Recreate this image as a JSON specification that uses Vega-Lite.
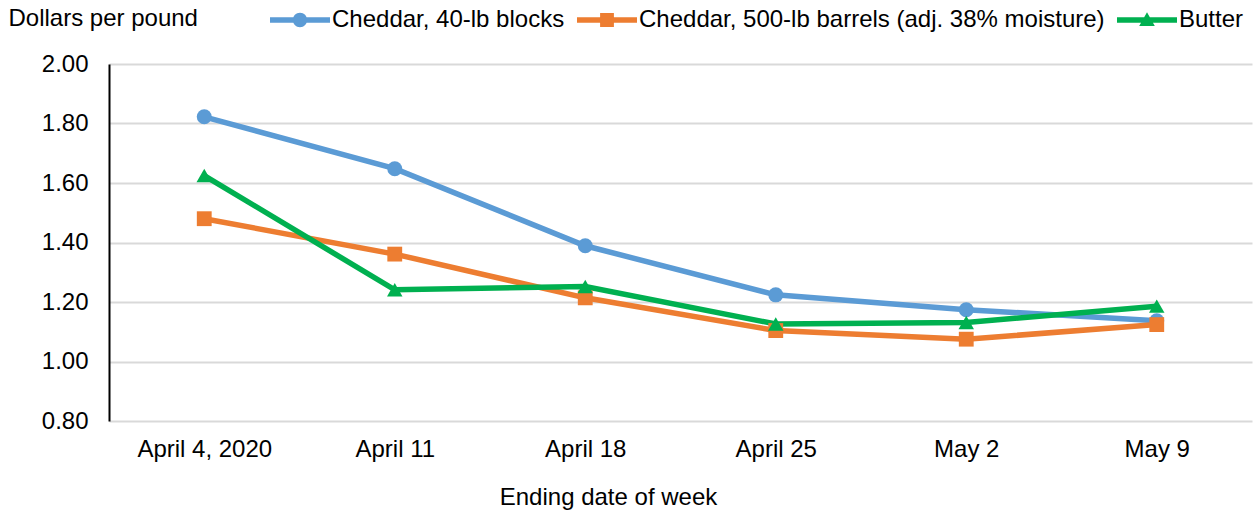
{
  "$schema": "https://vega.github.io/schema/vega-lite/v6.json",
  "autosize": {"type": "none"},
  "padding": {"left": 109, "top": 64, "right": 2, "bottom": 91},
  "width": 1143,
  "height": 357,
  "background": "white",
  "config": {
    "view": {"stroke": null},
    "font": "Liberation Sans",
    "axis": {"labelFont": "Liberation Sans", "titleFont": "Liberation Sans", "labelColor": "#000000", "titleColor": "#000000"},
    "legend": {"labelFont": "Liberation Sans"}
  },
  "data": {
    "values": [
      {"week": "April 4, 2020", "series": "Cheddar, 40-lb blocks", "price": 1.8225},
      {"week": "April 11", "series": "Cheddar, 40-lb blocks", "price": 1.648},
      {"week": "April 18", "series": "Cheddar, 40-lb blocks", "price": 1.389},
      {"week": "April 25", "series": "Cheddar, 40-lb blocks", "price": 1.224},
      {"week": "May 2", "series": "Cheddar, 40-lb blocks", "price": 1.174},
      {"week": "May 9", "series": "Cheddar, 40-lb blocks", "price": 1.137},
      {"week": "April 4, 2020", "series": "Cheddar, 500-lb barrels (adj. 38% moisture)", "price": 1.48},
      {"week": "April 11", "series": "Cheddar, 500-lb barrels (adj. 38% moisture)", "price": 1.361},
      {"week": "April 18", "series": "Cheddar, 500-lb barrels (adj. 38% moisture)", "price": 1.214},
      {"week": "April 25", "series": "Cheddar, 500-lb barrels (adj. 38% moisture)", "price": 1.104},
      {"week": "May 2", "series": "Cheddar, 500-lb barrels (adj. 38% moisture)", "price": 1.075},
      {"week": "May 9", "series": "Cheddar, 500-lb barrels (adj. 38% moisture)", "price": 1.124},
      {"week": "April 4, 2020", "series": "Butter", "price": 1.625},
      {"week": "April 11", "series": "Butter", "price": 1.241},
      {"week": "April 18", "series": "Butter", "price": 1.252},
      {"week": "April 25", "series": "Butter", "price": 1.126},
      {"week": "May 2", "series": "Butter", "price": 1.131},
      {"week": "May 9", "series": "Butter", "price": 1.186}
    ]
  },
  "encoding": {
    "x": {
      "field": "week", "type": "ordinal", "sort": null,
      "scale": {"type": "point", "padding": 0.5},
      "axis": {
        "title": "Ending date of week", "titleFontSize": 24, "titleFontWeight": "normal",
        "titleX": 499, "titleY": 76, "titleAnchor": null, "titleAlign": "center", "titleBaseline": "middle",
        "labelFontSize": 24, "labelPadding": 16, "labelAngle": 0,
        "domain": false, "ticks": false, "grid": false
      }
    },
    "y": {
      "field": "price", "type": "quantitative",
      "scale": {"domain": [0.8, 2.0], "nice": false, "zero": false},
      "axis": {
        "values": [0.8, 1.0, 1.2, 1.4, 1.6, 1.8, 2.0], "format": ".2f",
        "title": "Dollars per pound", "titleAngle": 0, "titleFontSize": 24, "titleFontWeight": "normal",
        "titleX": -101, "titleY": -46, "titleAlign": "left", "titleBaseline": "middle", "titleAnchor": null,
        "labelFontSize": 24, "labelPadding": 21,
        "domain": true, "domainColor": "#000000", "domainWidth": 2,
        "ticks": false, "grid": true, "gridColor": "#d9d9d9", "gridWidth": 2
      }
    },
    "color": {
      "field": "series", "type": "nominal",
      "scale": {
        "domain": ["Cheddar, 40-lb blocks", "Cheddar, 500-lb barrels (adj. 38% moisture)", "Butter"],
        "range": ["#5B9BD5", "#ED7D31", "#00B050"]
      },
      "legend": {
        "title": null, "orient": "none", "direction": "horizontal",
        "legendX": 161, "legendY": -74,
        "labelFontSize": 24, "labelColor": "#000000", "labelOffset": 2, "labelLimit": 0,
        "columnPadding": 12, "symbolSize": 3600,
        "encode": {
          "symbols": {
            "update": {
              "fill": {"scale": "color", "field": "value"},
              "strokeWidth": {"value": 0},
              "opacity": {"value": 1},
              "shape": {"signal": "datum.value == 'Butter' ? 'M-1,-0.09H1V0.09H-1Z M0,-0.26L0.26,0.2L-0.26,0.2Z' : (datum.value == 'Cheddar, 40-lb blocks' ? 'M-1,-0.09H1V0.09H-1Z M0.24,0A0.24,0.24 0 1,1 -0.24,0A0.24,0.24 0 1,1 0.24,0Z' : 'M-1,-0.09H1V0.09H-1Z M-0.23,-0.23H0.23V0.23H-0.23Z')"}
            }
          }
        }
      }
    }
  },
  "layer": [
    {"mark": {"type": "line", "strokeWidth": 5.5}},
    {
      "transform": [{"filter": "datum.series == 'Cheddar, 40-lb blocks'"}],
      "mark": {"type": "point", "filled": true, "opacity": 1, "size": 225, "shape": "circle"}
    },
    {
      "transform": [{"filter": "datum.series == 'Cheddar, 500-lb barrels (adj. 38% moisture)'"}],
      "mark": {"type": "point", "filled": true, "opacity": 1, "size": 220, "shape": "square"}
    },
    {
      "transform": [{"filter": "datum.series == 'Butter'"}],
      "mark": {"type": "point", "filled": true, "opacity": 1, "size": 240, "shape": "triangle-up"}
    }
  ]
}
